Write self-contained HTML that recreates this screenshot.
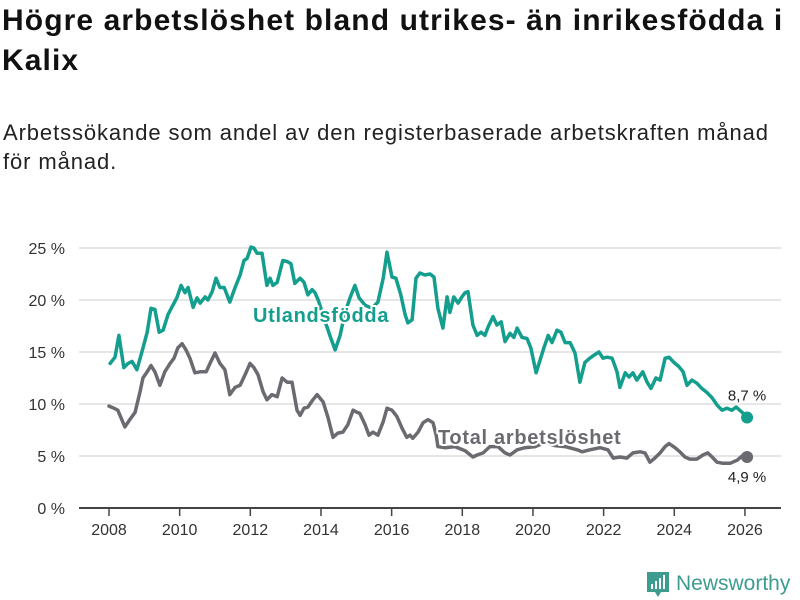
<!DOCTYPE html>
<html><head><meta charset="utf-8"><style>
body{margin:0;background:#fff;font-family:"Liberation Sans",sans-serif;}
#wrap{position:relative;width:800px;height:600px;overflow:hidden;}
h1{position:absolute;left:2px;top:1px;margin:0;font-size:30px;line-height:40px;font-weight:bold;color:#111;width:800px;letter-spacing:1.1px;white-space:nowrap;}
p.sub{position:absolute;left:3px;top:118px;margin:0;font-size:22px;line-height:29px;color:#222;width:800px;letter-spacing:0.9px;white-space:nowrap;}
svg{position:absolute;left:0;top:0;}
</style></head><body>
<div id="wrap">
<h1>Högre arbetslöshet bland utrikes- än inrikesfödda i<br>Kalix</h1>
<p class="sub">Arbetssökande som andel av den registerbaserade arbetskraften månad<br>för månad.</p>
<svg id="chart" width="800" height="600"></svg>
</div>
<script>
const yTicks=[0,5,10,15,20,25];
const xTicks=[2008,2010,2012,2014,2016,2018,2020,2022,2024,2026];
const utlDates=[2008.03,2008.17,2008.28,2008.42,2008.54,2008.65,2008.79,2008.93,2009.08,2009.19,2009.30,2009.42,2009.53,2009.67,2009.81,2009.92,2010.04,2010.15,2010.24,2010.38,2010.49,2010.58,2010.72,2010.80,2010.92,2011.03,2011.14,2011.26,2011.42,2011.57,2011.71,2011.82,2011.91,2012.02,2012.10,2012.19,2012.33,2012.47,2012.56,2012.64,2012.76,2012.92,2013.04,2013.15,2013.26,2013.41,2013.52,2013.63,2013.75,2013.83,2013.92,2014.11,2014.26,2014.40,2014.54,2014.68,2014.82,2014.96,2015.08,2015.25,2015.44,2015.61,2015.76,2015.87,2016.01,2016.12,2016.26,2016.38,2016.46,2016.58,2016.69,2016.80,2016.94,2017.09,2017.20,2017.31,2017.45,2017.57,2017.65,2017.76,2017.88,2017.99,2018.08,2018.16,2018.30,2018.42,2018.53,2018.64,2018.73,2018.87,2018.98,2019.10,2019.21,2019.35,2019.46,2019.55,2019.69,2019.83,2019.94,2020.09,2020.20,2020.31,2020.43,2020.54,2020.68,2020.79,2020.91,2021.05,2021.19,2021.33,2021.47,2021.61,2021.73,2021.87,2021.98,2022.10,2022.24,2022.38,2022.46,2022.61,2022.72,2022.83,2022.94,2023.11,2023.23,2023.34,2023.48,2023.60,2023.74,2023.85,2023.99,2024.13,2024.25,2024.36,2024.50,2024.64,2024.78,2024.93,2025.07,2025.21,2025.35,2025.49,2025.63,2025.75,2025.92,2026.06];
const utlValues=[13.9,14.5,16.6,13.5,13.9,14.1,13.3,15.0,16.9,19.2,19.1,16.9,17.1,18.6,19.5,20.2,21.4,20.7,21.2,19.3,20.2,19.7,20.3,20.0,20.8,22.1,21.2,21.2,19.8,21.2,22.4,23.8,24.0,25.1,25.0,24.5,24.5,21.4,22.1,21.4,21.7,23.8,23.7,23.5,21.6,22.1,21.7,20.5,21.0,20.7,20.0,18.0,16.5,15.2,16.6,18.8,20.2,21.4,20.2,19.5,19.2,19.8,22.1,24.6,22.2,22.1,20.5,18.6,17.8,18.1,22.1,22.6,22.4,22.5,22.2,19.2,17.3,20.3,18.8,20.3,19.7,20.3,20.7,20.8,17.6,16.6,16.9,16.6,17.4,18.4,17.6,17.9,16.0,16.8,16.4,17.3,16.4,16.3,15.4,13.0,14.2,15.4,16.6,15.9,17.1,16.9,15.9,15.9,14.9,12.1,14.0,14.4,14.7,15.0,14.4,14.5,14.4,13.1,11.6,13.0,12.6,13.0,12.3,13.1,12.1,11.5,12.5,12.3,14.4,14.5,14.0,13.6,13.1,11.8,12.3,12.0,11.5,11.1,10.6,9.9,9.4,9.6,9.4,9.7,9.2,8.7];
const totDates=[2008.00,2008.14,2008.25,2008.45,2008.59,2008.74,2008.88,2008.96,2009.08,2009.19,2009.30,2009.44,2009.58,2009.73,2009.84,2009.95,2010.07,2010.18,2010.29,2010.43,2010.58,2010.75,2010.86,2011.00,2011.14,2011.28,2011.42,2011.57,2011.71,2011.85,2011.99,2012.10,2012.22,2012.36,2012.47,2012.61,2012.76,2012.90,2013.04,2013.18,2013.32,2013.41,2013.52,2013.63,2013.77,2013.89,2014.06,2014.20,2014.34,2014.48,2014.62,2014.76,2014.91,2015.02,2015.10,2015.25,2015.36,2015.47,2015.61,2015.76,2015.87,2016.01,2016.15,2016.29,2016.43,2016.52,2016.60,2016.75,2016.89,2017.03,2017.17,2017.26,2017.31,2017.51,2017.79,2018.08,2018.30,2018.42,2018.59,2018.78,2019.01,2019.21,2019.35,2019.55,2019.77,2020.06,2020.34,2020.62,2020.91,2021.25,2021.39,2021.61,2021.90,2022.12,2022.27,2022.46,2022.66,2022.83,2023.03,2023.17,2023.31,2023.45,2023.60,2023.74,2023.85,2024.02,2024.16,2024.30,2024.44,2024.64,2024.81,2024.95,2025.07,2025.21,2025.38,2025.58,2025.78,2025.92,2026.06];
const totValues=[9.8,9.6,9.4,7.8,8.5,9.2,11.2,12.5,13.1,13.7,13.1,11.8,13.1,13.9,14.4,15.4,15.8,15.2,14.4,13.0,13.1,13.1,13.9,14.9,13.9,13.3,10.9,11.6,11.8,12.8,13.9,13.5,12.8,11.2,10.4,10.9,10.7,12.5,12.1,12.1,9.4,8.9,9.6,9.7,10.4,10.9,10.2,8.7,6.8,7.2,7.3,8.0,9.4,9.2,9.1,8.0,7.0,7.3,7.0,8.3,9.6,9.4,8.8,7.7,6.8,7.0,6.7,7.3,8.2,8.5,8.2,7.0,5.9,5.8,5.9,5.5,4.9,5.1,5.3,5.9,5.9,5.3,5.1,5.6,5.8,5.9,6.3,6.0,5.9,5.6,5.4,5.6,5.8,5.6,4.8,4.9,4.8,5.3,5.4,5.3,4.4,4.8,5.3,5.9,6.2,5.8,5.4,4.9,4.7,4.7,5.1,5.3,4.9,4.4,4.3,4.3,4.6,5.0,4.9];

const svg=document.getElementById('chart');
const NS='http://www.w3.org/2000/svg';
const xS=y=>109+(y-2008)*35.33;
const yS=v=>508-v*10.4;
function mk(t,a){const e=document.createElementNS(NS,t);for(const k in a)e.setAttribute(k,a[k]);svg.appendChild(e);return e;}
yTicks.forEach(t=>{
  if(t>0){const g=mk('line',{x1:79,x2:781,y1:yS(t),y2:yS(t),stroke:'#ddd','stroke-width':1.5});
  
  }
  const l=mk('text',{x:65,y:yS(t)+6,'text-anchor':'end','font-size':16,fill:'#333','font-family':'Liberation Sans, sans-serif'});
  l.textContent=t+' %';
  
  
});
const ax=mk('line',{x1:79,x2:781,y1:508,y2:508,stroke:'#444','stroke-width':2});


xTicks.forEach(t=>{
  const tk=mk('line',{x1:xS(t),x2:xS(t),y1:508,y2:516,stroke:'#444','stroke-width':1.5});
  
  
  const l=mk('text',{x:xS(t),y:535,'text-anchor':'middle','font-size':16,fill:'#333','font-family':'Liberation Sans, sans-serif'});
  l.textContent=t;
  
  
});
function line(d,v,c,name){
  const p=mk('path',{d:d.map((x,i)=>(i?'L':'M')+xS(x).toFixed(1)+','+yS(v[i]).toFixed(1)).join(''),fill:'none',stroke:c,'stroke-width':3.5,'stroke-linejoin':'round','stroke-linecap':'round'});
  
  
  const n=d.length-1;
  const dot=mk('circle',{cx:xS(d[n]),cy:yS(v[n]),r:6,fill:c});
  
  
  return [xS(d[n]),yS(v[n])];
}
const pt=line(totDates,totValues,'#6b6a70','total-line');
const pu=line(utlDates,utlValues,'#139e8e','utlandsfodda-line');
function lab(x,y,txt,c,name,size,bold,anchor,ls){
  const t=mk('text',{x:x,y:y,'font-size':size,'font-weight':bold?'bold':'normal',fill:c,stroke:'#fff','stroke-width':4,'paint-order':'stroke','stroke-linejoin':'round','text-anchor':anchor||'start','letter-spacing':ls||0,'font-family':'Liberation Sans, sans-serif'});
  t.textContent=txt;
  
  
}
lab(253,322,'Utlandsfödda','#139e8e','utlandsfodda-label',20,true,'start',0.7);
lab(438,444,'Total arbetslöshet','#6b6a70','total-label',20,true,'start',0.7);
lab(pu[0],pu[1]-17,'8,7 %','#222','utlandsfodda-end-value',15,false,'middle');
lab(pt[0],pt[1]+25,'4,9 %','#222','total-end-value',15,false,'middle');
</script>
<svg width="800" height="600" style="position:absolute;left:0;top:0;pointer-events:none">
<path d="M647 572h22v20h-8l-3 5-3-5h-8z" fill="#3d9b8f"/>
<rect x="651" y="584" width="2" height="5" fill="#fff"/><rect x="655" y="581" width="2" height="8" fill="#fff"/><rect x="659" y="578" width="2" height="11" fill="#fff"/><rect x="663" y="575" width="2" height="14" fill="#fff"/>
<text x="676" y="590" font-size="21" fill="#3d9b8f" font-family="Liberation Sans, sans-serif">Newsworthy</text>
</svg>
</body></html>
